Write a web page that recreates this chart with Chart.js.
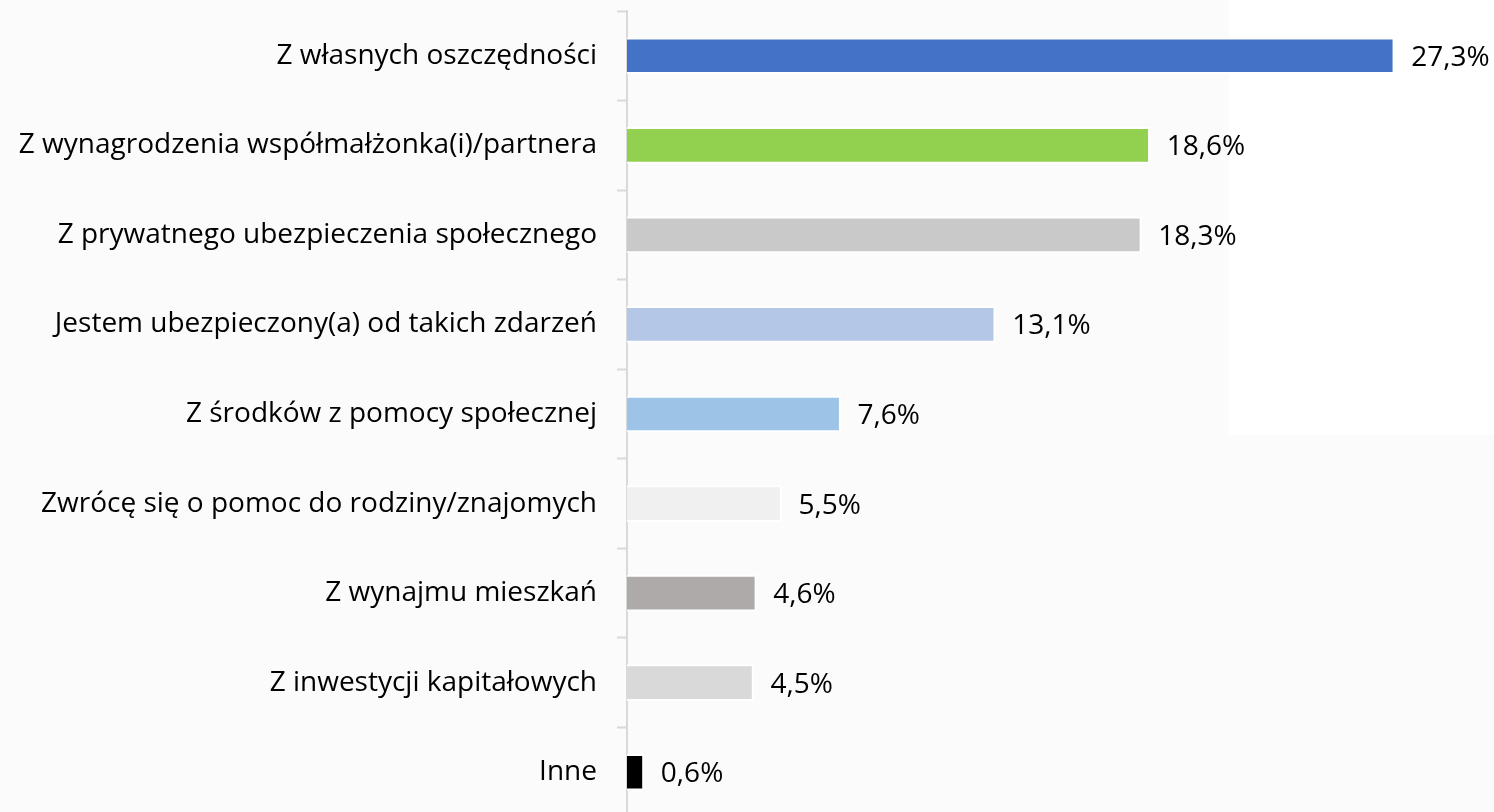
<!DOCTYPE html>
<html>
<head>
<meta charset="utf-8">
<script src="https://cdn.jsdelivr.net/npm/chart.js@4/dist/chart.umd.min.js"></script>
<style>
  html, body { margin: 0; padding: 0; overflow: hidden; background: #fbfbfb; }
  #bgWhite { position: absolute; left: 1229px; top: 0; width: 265px; height: 435px; background: #ffffff; }
  #wrap { position: absolute; left: 0; top: 0; width: 1494px; height: 817px; }
</style>
</head>
<body>
<div id="bgWhite"></div>
<div id="wrap"><canvas id="c"></canvas></div>
<script>
const categories = [
  "Z własnych oszczędności",
  "Z wynagrodzenia współmałżonka(i)/partnera",
  "Z prywatnego ubezpieczenia społecznego",
  "Jestem ubezpieczony(a) od takich zdarzeń",
  "Z środków z pomocy społecznej",
  "Zwrócę się o pomoc do rodziny/znajomych",
  "Z wynajmu mieszkań",
  "Z inwestycji kapitałowych",
  "Inne"
];
const values = [27.3, 18.6, 18.3, 13.1, 7.6, 5.5, 4.6, 4.5, 0.6];
const barColors = ["#4472C4", "#92D050", "#C9C9C9", "#B4C7E7", "#9DC3E6", "#F0F0F0", "#AEAAAA", "#D9D9D9", "#000000"];

const FONT = { family: "'Open Sans', sans-serif", size: 28 };

const valueLabels = {
  id: 'valueLabels',
  afterDatasetsDraw(chart) {
    const ctx = chart.ctx;
    const meta = chart.getDatasetMeta(0);
    ctx.save();
    ctx.font = FONT.size + "px " + FONT.family;
    ctx.fillStyle = "#000000";
    ctx.textAlign = "left";
    ctx.textBaseline = "middle";
    meta.data.forEach((bar, i) => {
      const txt = values[i].toFixed(1).replace('.', ',') + '%';
      ctx.fillText(txt, bar.x + 17, bar.y + 2);
    });
    ctx.restore();
  }
};

new Chart(document.getElementById('c'), {
  type: 'bar',
  data: {
    labels: categories,
    datasets: [{
      data: values,
      backgroundColor: barColors,
      borderColor: "#ffffff",
      borderWidth: 2,
      borderSkipped: 'start',
      barThickness: 36
    }]
  },
  options: {
    indexAxis: 'y',
    responsive: true,
    maintainAspectRatio: false,
    animation: false,
    layout: { padding: { top: 11, right: 0, bottom: 0, left: 0 } },
    plugins: { legend: { display: false }, tooltip: { enabled: false } },
    scales: {
      x: {
        display: false,
        min: 0,
        max: 30.85
      },
      y: {
        afterFit(scale) {
          scale.width = 627;
          scale.paddingTop = 0;
          scale.paddingBottom = 0;
        },
        grid: {
          drawOnChartArea: false,
          drawTicks: true,
          tickLength: 10,
          tickWidth: 2,
          tickColor: "#D9D9D9",
          offset: true
        },
        border: { display: true, color: "#D9D9D9", width: 2 },
        ticks: {
          color: "#000000",
          font: FONT,
          padding: 20
        }
      }
    }
  },
  plugins: [valueLabels]
});
</script>
</body>
</html>
